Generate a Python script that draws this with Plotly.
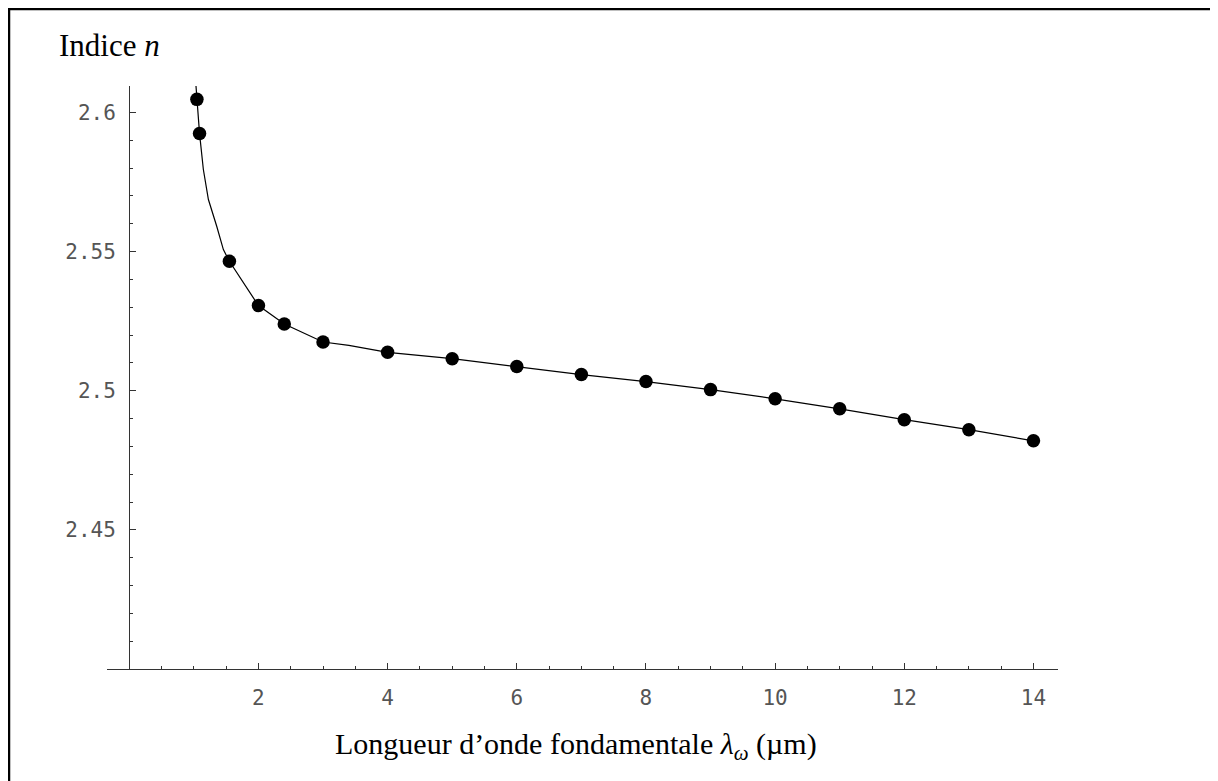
import plotly.graph_objects as go

# Measured points (wavelength in µm, refractive index)
wavelength = [1.047, 1.088, 1.55, 2.0, 2.4, 3.0, 4.0, 5.0, 6.0, 7.0, 8.0, 9.0, 10.0, 11.0, 12.0, 13.0, 14.0]
index_n = [2.6047, 2.5924, 2.5465, 2.5306, 2.5240, 2.5175, 2.5138, 2.5115, 2.5087, 2.5058,
           2.5033, 2.5004, 2.4971, 2.4935, 2.4896, 2.4860, 2.4820]

# Fitted curve
fit_x = [1.02, 1.047, 1.088, 1.147, 1.225, 1.355, 1.457, 1.55, 2.0, 2.4, 3.0, 3.4, 4.0, 5.0, 6.0,
         7.0, 8.0, 9.0, 10.0, 11.0, 12.0, 13.0, 14.0]
fit_y = [2.6135, 2.6047, 2.5924, 2.5795, 2.5687, 2.5590, 2.5507, 2.5465, 2.5306, 2.5240, 2.5175,
         2.5163, 2.5138, 2.5115, 2.5087, 2.5058, 2.5033, 2.5004, 2.4971, 2.4935, 2.4896, 2.4860, 2.4820]

x_ticks = [2, 4, 6, 8, 10, 12, 14]
y_ticks = [2.45, 2.5, 2.55, 2.6]
y_labels = ['2.45', '2.5', '2.55', '2.6']

tick_font = dict(family='DejaVu Sans Mono', size=21, color='#555')
title_font = dict(family='Liberation Serif', size=30, color='black')

# the page adds an 8px body margin, so the figure is 8px smaller
# and all positions below are given in page pixels
fig = go.Figure()
fig.add_scatter(
    x=fit_x, y=fit_y,
    mode='lines',
    line=dict(color='black', width=1.2),
    showlegend=False
)
fig.add_scatter(
    x=wavelength, y=index_n,
    mode='markers',
    marker=dict(color='black', size=13.5),
    showlegend=False
)

fig.update_layout(
    width=1210,
    height=773,
    margin=dict(l=99, r=160, t=78, b=112),
    plot_bgcolor='white',
    paper_bgcolor='white',
    xaxis=dict(
        range=[-0.345, 14.38],
        tickmode='array', tickvals=x_ticks,
        ticks='inside', ticklen=6, tickcolor='#333', tickwidth=1,
        minor=dict(dtick=0.5, tick0=0, ticks='inside', ticklen=3, tickcolor='#333'),
        showline=True, linecolor='#333', linewidth=1.3,
        showgrid=False, zeroline=False,
        tickfont=tick_font, ticklabelstandoff=10
    ),
    yaxis=dict(
        range=[2.40, 2.6095],
        anchor='free', position=(129.2 - 107) / 951,
        tickmode='array', tickvals=y_ticks, ticktext=y_labels,
        ticks='inside', ticklen=6, tickcolor='#333', tickwidth=1,
        minor=dict(dtick=0.01, tick0=2.40, ticks='inside', ticklen=3, tickcolor='#333'),
        showline=True, linecolor='#333', linewidth=1.3,
        showgrid=False, zeroline=False,
        tickfont=tick_font, ticklabelstandoff=9
    ),
    annotations=[
        dict(text='Indice <i>n</i>', xref='paper', yref='paper',
             x=(57 - 107) / 951, y=(669 - 46) / 583, xanchor='left', yanchor='middle',
             showarrow=False, font=dict(family='Liberation Serif', size=31, color='black')),
        dict(text='Longueur d\u2019onde fondamentale <i>\u03bb</i><sub><i>\u03c9</i></sub> (\u00b5m)',
             xref='paper', yref='paper',
             x=(576 - 107) / 951, y=(669 - 746) / 583, xanchor='center', yanchor='middle',
             showarrow=False, font=title_font),
    ],
    shapes=[
        dict(type='rect', xref='paper', yref='paper',
             x0=(9 - 107) / 951, x1=(1240 - 107) / 951,
             y0=(669 - 800) / 583, y1=(669 - 9) / 583,
             line=dict(color='black', width=2.5))
    ]
)

fig.write_html("out.html")
